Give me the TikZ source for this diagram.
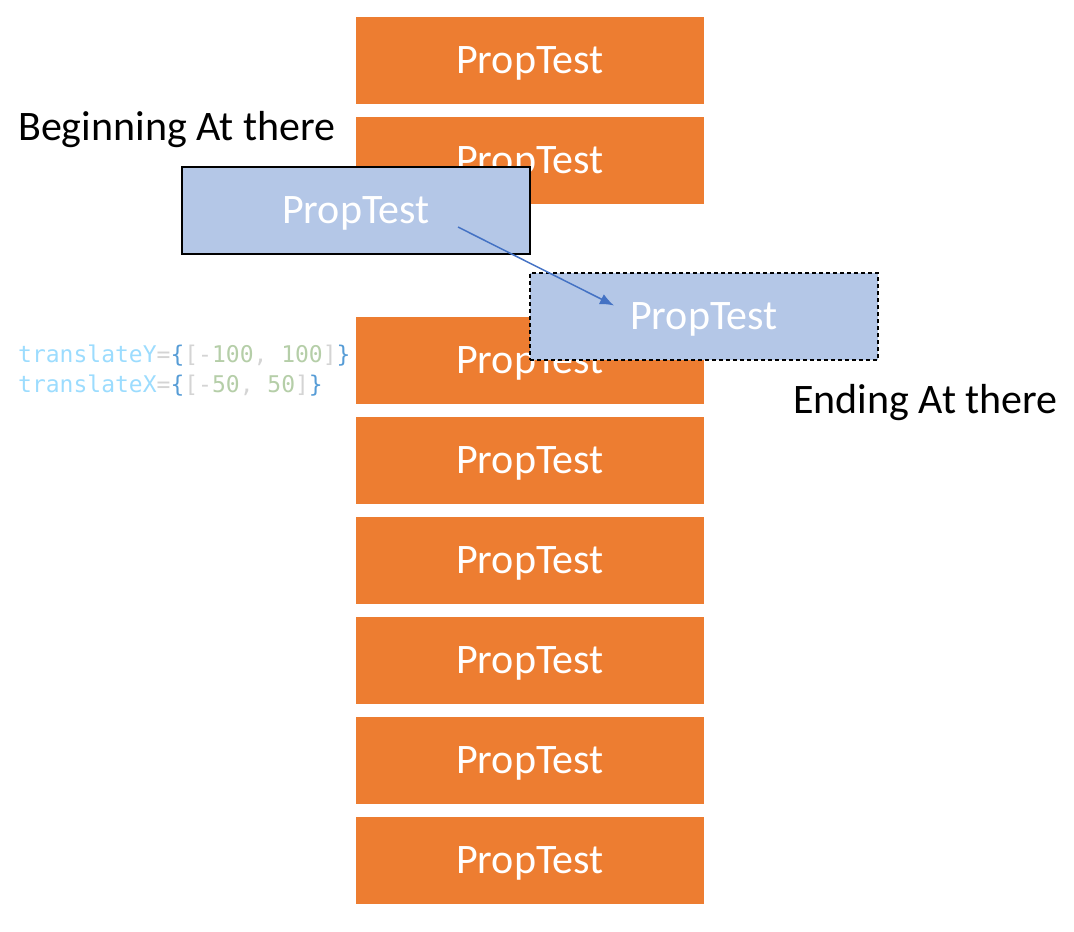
\documentclass[tikz,border=0pt]{standalone}
\usepackage{fontspec}
\setmainfont{Carlito}
\newfontfamily\codefont{DejaVu Sans Mono}
\usetikzlibrary{calc,arrows.meta}
\definecolor{proporange}{HTML}{ED7D31}
\definecolor{propblue}{HTML}{B4C7E7}
\definecolor{arrowblue}{HTML}{4472C4}
\definecolor{codeprop}{HTML}{9CDCFE}
\definecolor{codebrace}{HTML}{569CD6}
\definecolor{codegrey}{HTML}{D4D4D4}
\definecolor{codenum}{HTML}{B5CEA8}
\tikzset{
   propbox/.style = {minimum width = 348pt, minimum height = 87pt, inner sep = 0pt, text depth = 0pt,
      text = white, font = \fontsize{42}{48}\selectfont},
   label/.style = {anchor = west, inner sep = 0pt, font = \fontsize{42}{48}\selectfont},
   codeline/.style = {anchor = west, inner sep = 0pt, font = \codefont\fontsize{23}{26}\selectfont}
}
\begin{document}
\begin{tikzpicture}[x=1pt, y=-1pt]
		\useasboundingbox (0,0) rectangle (1074,932);
		
		% Column of boxes
		\foreach \i in {0,1,3,4,5,6,7,8}
		{
			\node[propbox, fill = proporange] (prop\i) at (530,60.5+100*\i) {PropTest};
		}
		
		% Moved box
		\node[propbox, fill = propblue, draw = black, line width = 2pt] (start) at (356,210) {PropTest};
		\node[propbox, fill = propblue, draw = black, line width = 1.5pt, dash pattern = on 4pt off 3pt] (finish) at (704,316.5) {PropTest};
		
		% Arrow
		\coordinate (from) at ($ (start.center) + (102,17) $);
		\coordinate (to) at ($ (finish.center) + (-90,-11) $);
		\draw[-{Latex[length=14pt, width=11pt]}, arrowblue, line width = 1.5pt] (from) -- (to);
		
		% Labels
		\node[label] (beginning) at (18,130) {Beginning At there};
		\node[label] (ending) at (793,403) {Ending At there};
		
		% Code
		\node[codeline] (codey) at (18,356) {\textcolor{codeprop}{translateY}\textcolor{codegrey}{=}\textcolor{codebrace}{\{}\textcolor{codegrey}{[-}\textcolor{codenum}{100}\textcolor{codegrey}{, }\textcolor{codenum}{100}\textcolor{codegrey}{]}\textcolor{codebrace}{\}}};
		\node[codeline] (codex) at (18,386) {\textcolor{codeprop}{translateX}\textcolor{codegrey}{=}\textcolor{codebrace}{\{}\textcolor{codegrey}{[-}\textcolor{codenum}{50}\textcolor{codegrey}{, }\textcolor{codenum}{50}\textcolor{codegrey}{]}\textcolor{codebrace}{\}}};
	\end{tikzpicture}
\end{document}
